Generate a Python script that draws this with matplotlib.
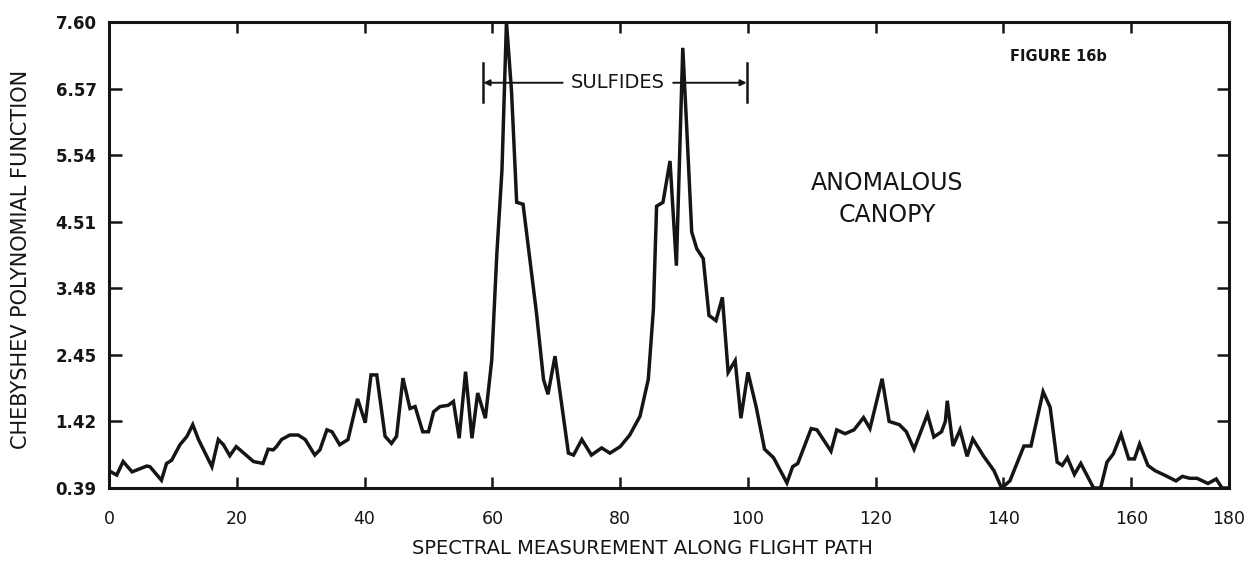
import matplotlib
matplotlib.use("Agg")
import matplotlib.pyplot as plt

# ---------------- data ----------------
x_vals = [0.3, 1.2, 2.2, 3.6, 5.9, 6.4, 8.2, 9.0, 9.8, 11.1, 12.2, 13.1, 14.0, 16.1,
          17.1, 17.9, 18.9, 19.9, 20.5, 22.6, 24.1, 24.9, 25.7, 26.2, 27.0, 28.3,
          29.6, 30.7, 32.2, 33.0, 34.1, 34.9, 36.1, 37.4, 38.9, 40.1, 41.0, 41.9,
          43.2, 44.2, 45.0, 46.0, 47.1, 47.9, 49.1, 50.0, 50.8, 51.8, 53.1, 53.9,
          54.8, 55.8, 56.8, 57.7, 58.9, 59.9, 60.7, 61.5, 62.2, 63.0, 63.8, 64.8,
          66.9, 68.0, 68.7, 69.8, 71.9, 72.7, 74.0, 75.5, 77.1, 78.4, 80.0, 81.5,
          83.1, 84.4, 85.2, 85.7, 86.7, 87.8, 88.8, 89.8, 90.4, 91.2, 92.0, 93.0,
          93.9, 95.0, 96.0, 96.9, 98.0, 98.9, 100.0, 101.3, 102.6, 104.0, 106.1,
          107.0, 107.8, 109.9, 110.8, 113.0, 113.9, 115.2, 116.6, 118.1, 119.1,
          121.0, 122.1, 123.7, 124.8, 126.0, 128.1, 129.1, 130.3, 130.9, 131.2,
          132.1, 133.2, 134.3, 135.2, 136.9, 138.5, 139.7, 141.0, 143.2, 144.3,
          146.2, 147.3, 148.4, 149.2, 150.0, 151.1, 152.1, 154.1, 155.2, 156.2,
          157.2, 158.4, 159.6, 160.5, 161.3, 162.6, 163.7, 165.4, 167.0, 168.0,
          169.2, 170.3, 172.0, 173.3, 174.2, 175.3]
y_vals = [0.64, 0.59, 0.80, 0.64, 0.73, 0.72, 0.51, 0.77, 0.82, 1.06, 1.19, 1.37, 1.14, 0.72,
          1.14, 1.06, 0.89, 1.03, 0.98, 0.80, 0.77, 0.99, 0.98, 1.03, 1.14, 1.21,
          1.21, 1.14, 0.90, 0.98, 1.29, 1.26, 1.06, 1.14, 1.77, 1.40, 2.14, 2.14,
          1.19, 1.08, 1.19, 2.09, 1.62, 1.65, 1.26, 1.26, 1.57, 1.65, 1.67, 1.73,
          1.16, 2.19, 1.16, 1.86, 1.47, 2.37, 4.02, 5.31, 7.60, 6.52, 4.81, 4.78,
          3.10, 2.07, 1.84, 2.43, 0.93, 0.90, 1.14, 0.90, 1.01, 0.93, 1.03, 1.21,
          1.50, 2.07, 3.15, 4.75, 4.81, 5.45, 3.83, 7.20, 6.00, 4.35, 4.09, 3.94,
          3.06, 2.98, 3.34, 2.18, 2.36, 1.47, 2.18, 1.64, 0.99, 0.86, 0.47,
          0.72, 0.77, 1.31, 1.29, 0.96, 1.29, 1.23, 1.29, 1.48, 1.31,
          2.08, 1.42, 1.37, 1.26, 0.99, 1.53, 1.18, 1.26, 1.42, 1.74,
          1.04, 1.29, 0.88, 1.15, 0.88, 0.66, 0.39, 0.50, 1.04, 1.04,
          1.88, 1.64, 0.79, 0.74, 0.86, 0.60, 0.77, 0.39, 0.39, 0.79,
          0.92, 1.22, 0.84, 0.84, 1.07, 0.74, 0.66, 0.58, 0.50, 0.57,
          0.54, 0.54, 0.46, 0.53, 0.39, 0.39]

y_ticks = [0.39, 1.42, 2.45, 3.48, 4.51, 5.54, 6.57, 7.60]
y_tick_labels = ["0.39", "1.42", "2.45", "3.48", "4.51", "5.54", "6.57", "7.60"]
x_ticks = [0, 20, 40, 60, 80, 100, 120, 140, 160]
x_tick_labels = ["0", "20", "40", "60", "80", "100", "120", "140", "160", "180"]
x_end = 175.3          # right edge of the drawn axis (labelled "180" in the original)
sulfide_span = [58.6, 99.8]

title_text = "FIGURE 16b"
x_label = "SPECTRAL MEASUREMENT ALONG FLIGHT PATH"
y_label = "CHEBYSHEV POLYNOMIAL FUNCTION"
note_text = "ANOMALOUS\nCANOPY"
bracket_text = "SULFIDES"

# ---------------- figure ----------------
INK = "#151515"
fig = plt.figure(figsize=(12.55, 5.61), dpi=100)
ax = fig.add_axes([0.0869, 0.1301, 0.8924, 0.8307])

ax.plot(x_vals, y_vals, color=INK, lw=2.5, solid_joinstyle="miter", clip_on=True)

ax.set_xlim(0, x_end)
ax.set_ylim(y_ticks[0], y_ticks[-1])

for s in ax.spines.values():
    s.set_linewidth(2.2)
    s.set_color(INK)

ax.set_xticks(x_ticks + [x_end])
ax.set_xticklabels(x_tick_labels, fontsize=12.5, color=INK)
ax.set_yticks(y_ticks)
ax.set_yticklabels(y_tick_labels, fontsize=12, fontweight="bold", color=INK)
ax.tick_params(axis="x", direction="in", length=8, width=1.8, top=True, pad=16, colors=INK)
ax.tick_params(axis="y", direction="in", length=9, width=1.8, right=True, pad=9, colors=INK)

ax.text(0.476, -0.129, x_label, transform=ax.transAxes, fontsize=14,
        ha="center", va="center", color=INK)
ax.set_ylabel(y_label, fontsize=15, color=INK)
ax.yaxis.set_label_coords(-0.07, 0.49)

# SULFIDES bracket
y_br = 6.66
for xb in sulfide_span:
    ax.plot([xb, xb], [6.36, 6.97], color=INK, lw=1.8)
ax.text(79.6, y_br, bracket_text, fontsize=14, ha="center", va="center", color=INK)
ax.annotate("", xy=(sulfide_span[0], y_br), xytext=(71.0, y_br),
            arrowprops=dict(arrowstyle="-|>", lw=1.4, color=INK, mutation_scale=9,
                            shrinkA=0, shrinkB=0))
ax.annotate("", xy=(sulfide_span[1], y_br), xytext=(88.3, y_br),
            arrowprops=dict(arrowstyle="-|>", lw=1.4, color=INK, mutation_scale=9,
                            shrinkA=0, shrinkB=0))

ax.text(121.8, 4.86, note_text, fontsize=17, ha="center", va="center",
        color=INK, linespacing=1.4)
ax.text(141.0, 7.06, title_text, fontsize=10.5, fontweight="bold", ha="left",
        va="center", color=INK)

fig.savefig("out.png", dpi=100, facecolor="white")
